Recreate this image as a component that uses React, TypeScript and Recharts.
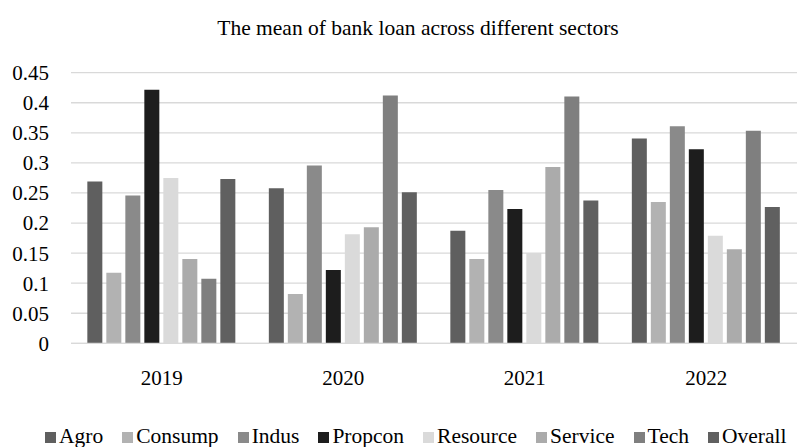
import React from 'react';
import { BarChart, Bar, XAxis, YAxis, CartesianGrid } from 'recharts';

// categories and y ticks
const years = ['2019', '2020', '2021', '2022'];
const yTicks = [0, 0.05, 0.1, 0.15, 0.2, 0.25, 0.3, 0.35, 0.4, 0.45];

// mean bank loan per sector, one value per year
const agro = [0.269, 0.258, 0.187, 0.3405];
const consump = [0.1175, 0.082, 0.14, 0.235];
const indus = [0.2457, 0.2956, 0.255, 0.361];
const propcon = [0.4215, 0.122, 0.2235, 0.3228];
const resource = [0.275, 0.1814, 0.15, 0.179];
const service = [0.14, 0.193, 0.293, 0.1564];
const tech = [0.1075, 0.412, 0.4104, 0.3533];
const overall = [0.2734, 0.2513, 0.2373, 0.2268];

const series = [
  { key: 'Agro', values: agro, color: '#5f5f5f' },
  { key: 'Consump', values: consump, color: '#b2b2b2' },
  { key: 'Indus', values: indus, color: '#8a8a8a' },
  { key: 'Propcon', values: propcon, color: '#1d1d1d' },
  { key: 'Resource', values: resource, color: '#dadada' },
  { key: 'Service', values: service, color: '#ababab' },
  { key: 'Tech', values: tech, color: '#7f7f7f' },
  { key: 'Overall', values: overall, color: '#606060' },
];

const chartData = years.map((year, i) => {
  const row: Record<string, string | number> = { year };
  series.forEach(s => {
    row[s.key] = s.values[i];
  });
  return row;
});

const font = "'Liberation Serif', 'Times New Roman', serif";

const App: React.FC = () => {
  return (
    <div style={{ position: 'absolute', left: 0, top: 0, width: 798, height: 447, background: '#fff', fontFamily: font }}>
      <div style={{ position: 'absolute', top: 16, left: 0, width: 836, textAlign: 'center', fontSize: 21.5, color: '#000', lineHeight: 'normal' }}>
        The mean of bank loan across different sectors
      </div>

      <BarChart
        width={798}
        height={447}
        data={chartData}
        margin={{ top: 72.7, right: 1, bottom: 73.7, left: 0 }}
        barCategoryGap="9%"
        barGap={4}
        style={{ fontFamily: font }}
      >
        <CartesianGrid vertical={false} stroke="#d9d9d9" strokeWidth={1.3} />
        <XAxis
          dataKey="year"
          height={30}
          axisLine={{ stroke: '#d9d9d9', strokeWidth: 1.3 }}
          tickLine={false}
          tickSize={0}
          tickMargin={27}
          tick={{ fill: '#000', fontSize: 21, fontFamily: font }}
        />
        <YAxis
          width={71}
          domain={[0, 0.45]}
          ticks={yTicks}
          interval={0}
          axisLine={false}
          tickLine={false}
          tickSize={0}
          tickMargin={22}
          tick={{ fill: '#000', fontSize: 21, fontFamily: font }}
          tickFormatter={(v: number) => String(Number(v.toFixed(2)))}
        />
        {series.map(s => (
          <Bar key={s.key} dataKey={s.key} fill={s.color} isAnimationActive={false} />
        ))}
      </BarChart>

      <div style={{ position: 'absolute', top: 424, left: 45, display: 'flex', alignItems: 'center', gap: 19, fontSize: 21.5, lineHeight: '24px', color: '#000', whiteSpace: 'nowrap' }}>
        {series.map(s => (
          <div key={s.key} style={{ display: 'flex', alignItems: 'center' }}>
            <span style={{ display: 'inline-block', width: 11, height: 11, background: s.color, marginRight: 3, marginTop: 2 }} />
            <span>{s.key}</span>
          </div>
        ))}
      </div>
    </div>
  );
};

export default App;
